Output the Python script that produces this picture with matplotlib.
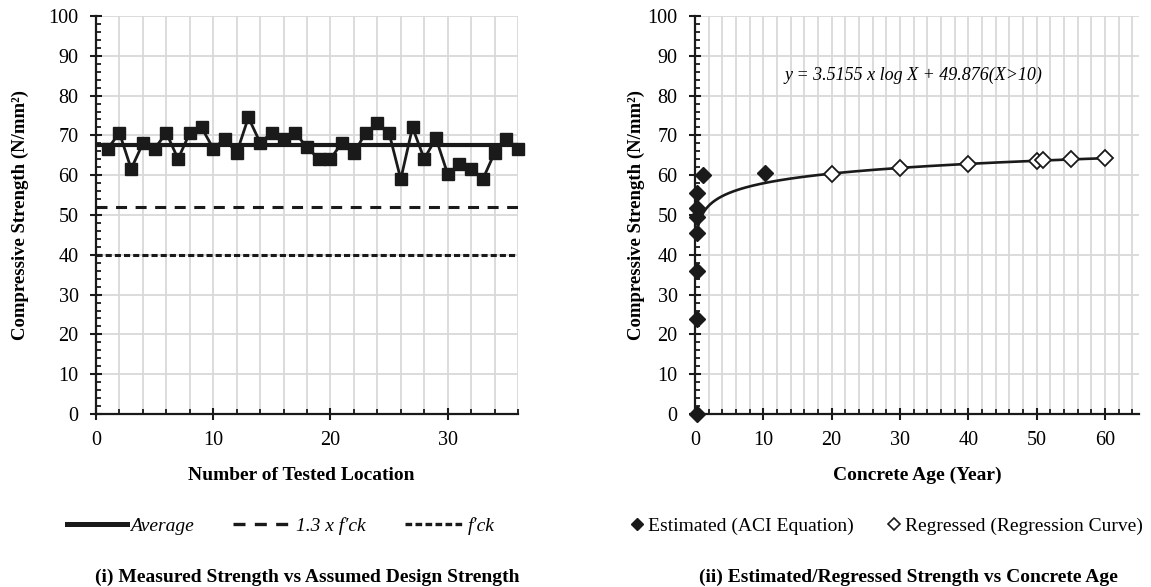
import numpy as np
import matplotlib
matplotlib.use("Agg")
import matplotlib.pyplot as plt
from matplotlib.lines import Line2D
from matplotlib.ticker import MultipleLocator

plt.rcParams['font.family'] = ['Liberation Serif', 'DejaVu Serif']

# ---------------- data: chart (i) ----------------
location = list(range(1, 37))
measured = [66.7, 70.6, 61.6, 68.0, 66.7, 70.6, 64.1, 70.6, 72.0, 66.7,
            69.1, 65.6, 74.5, 68.2, 70.6, 69.1, 70.6, 67.0, 64.1, 64.1,
            68.2, 65.6, 70.6, 73.0, 70.6, 59.0, 72.0, 64.1, 69.3, 60.3,
            62.7, 61.6, 59.0, 65.6, 69.0, 66.7]
average_value = 67.6
design_13fck = 52.0
design_fck = 40.0

# ---------------- data: chart (ii) ----------------
est_age = [0.3, 0.3, 0.3, 0.3, 0.3, 0.3, 0.3, 1.1, 10.2]
est_strength = [0.0, 23.8, 36.0, 45.5, 49.6, 51.7, 55.6, 60.0, 60.5]
reg_age = [20, 30, 40, 50, 51, 55, 60]
reg_strength = [60.4, 61.8, 62.8, 63.6, 63.7, 64.0, 64.3]
fit_a = 3.5155
fit_b = 49.876
fit_range = (0.5, 60)

W, H = 1151, 587
fig = plt.figure(figsize=(W / 100, H / 100), dpi=100)

ax_bottom_px, ax_top_px = 414, 16
ax1 = fig.add_axes([96 / W, (H - ax_bottom_px) / H, 422 / W, (ax_bottom_px - ax_top_px) / H])
ax2 = fig.add_axes([695 / W, (H - ax_bottom_px) / H, 444 / W, (ax_bottom_px - ax_top_px) / H])

grid_c = '#d9d9d9'
TICK_FS = 14.5
LAB_FS = 14


def style_axes(ax, xmax):
    ax.set_xlim(0, xmax)
    ax.set_ylim(0, 100)
    ax.xaxis.set_major_locator(MultipleLocator(10))
    ax.xaxis.set_minor_locator(MultipleLocator(2))
    ax.yaxis.set_major_locator(MultipleLocator(10))
    ax.yaxis.set_minor_locator(MultipleLocator(2))
    ax.grid(which='both', axis='x', color=grid_c, lw=1.3, zorder=0)
    ax.grid(which='major', axis='y', color=grid_c, lw=1.3, zorder=0)
    ax.set_axisbelow(True)
    for s in ['top', 'right']:
        ax.spines[s].set_visible(False)
    for s in ['left', 'bottom']:
        ax.spines[s].set_linewidth(1.6)
        ax.spines[s].set_color('#1a1a1a')
    ax.tick_params(which='major', direction='inout', length=9, width=1.5,
                   labelsize=TICK_FS, pad=8, color='#1a1a1a')
    ax.tick_params(which='minor', direction='in', length=3.5, width=1.3, color='#1a1a1a')


style_axes(ax1, 36)
style_axes(ax2, 65)

# ---- chart (i) ----
ax1.axhline(average_value, color='#1a1a1a', lw=3.0, zorder=3)
ax1.axhline(design_13fck, color='#1a1a1a', lw=2.2, dashes=(3.6, 2.8), zorder=3)
ax1.axhline(design_fck, color='#1a1a1a', lw=2.2, dashes=(2.0, 1.0), zorder=3)
ax1.plot(location, measured, color='#1a1a1a', lw=2.0, marker='s', ms=8,
         mfc='#1a1a1a', mec='#1a1a1a', zorder=4, clip_on=False)

ax1.set_xlabel('Number of Tested Location', fontsize=LAB_FS, fontweight='bold')
ax1.xaxis.label.set_va('center')
ax1.xaxis.set_label_coords(0.487, (ax_bottom_px - 475) / (ax_bottom_px - ax_top_px))
ax1.set_ylabel('Compressive Strength (N/mm\u00b2)', fontsize=LAB_FS - 0.5, fontweight='bold')
ax1.yaxis.label.set_va('center')
ax1.yaxis.set_label_coords((20 - 96) / 422, 0.5)

# ---- chart (ii) ----
xs = np.geomspace(fit_range[0], fit_range[1], 300)
ax2.plot(xs, fit_a * np.log(xs) + fit_b, color='#1a1a1a', lw=1.9, zorder=3)
ax2.plot(est_age, est_strength, ls='none', marker='D', ms=8, mfc='#1a1a1a',
         mec='#1a1a1a', zorder=5, clip_on=False)
ax2.plot(reg_age, reg_strength, ls='none', marker='D', ms=8, mfc='white',
         mec='#1a1a1a', mew=1.3, zorder=5)
ax2.text(32, 85, 'y = 3.5155 x log X + 49.876(X>10)', fontsize=13,
         style='italic', ha='center', va='center')

ax2.set_xlabel('Concrete Age (Year)', fontsize=LAB_FS, fontweight='bold')
ax2.xaxis.label.set_va('center')
ax2.xaxis.set_label_coords(0.5, (ax_bottom_px - 475) / (ax_bottom_px - ax_top_px))
ax2.set_ylabel('Compressive Strength (N/mm\u00b2)', fontsize=LAB_FS - 0.5, fontweight='bold')
ax2.yaxis.label.set_va('center')
ax2.yaxis.set_label_coords((636 - 695) / 444, 0.5)

# ---- legends ----
h1 = [Line2D([], [], color='#1a1a1a', lw=3.6),
      Line2D([], [], color='#1a1a1a', lw=2.4, dashes=(3.6, 2.8)),
      Line2D([], [], color='#1a1a1a', lw=2.4, dashes=(2.0, 1.0))]
fig.legend(h1, ['Average', '1.3 x f\u2032ck', 'f\u2032ck'], loc='center',
           bbox_to_anchor=(281 / W, 1 - 526 / H), ncol=3, frameon=False,
           prop={'size': 14, 'style': 'italic'}, handlelength=3.1,
           handletextpad=0.15, columnspacing=2.0)

h2 = [Line2D([], [], ls='none', marker='D', ms=6, mfc='#1a1a1a', mec='#1a1a1a'),
      Line2D([], [], ls='none', marker='D', ms=6, mfc='white', mec='#1a1a1a', mew=1.2)]
fig.legend(h2, ['Estimated (ACI Equation)', 'Regressed (Regression Curve)'],
           loc='center', bbox_to_anchor=(887 / W, 1 - 526 / H), ncol=2,
           frameon=False, prop={'size': 14}, handlelength=0.6,
           handletextpad=0.25, columnspacing=1.8)

# ---- captions ----
fig.text(307 / W, 1 - 577 / H, '(i) Measured Strength vs Assumed Design Strength',
         fontsize=14, fontweight='bold', ha='center', va='center')
fig.text(908 / W, 1 - 577 / H, '(ii) Estimated/Regressed Strength vs Concrete Age',
         fontsize=14, fontweight='bold', ha='center', va='center')

fig.savefig('out.png', dpi=100, facecolor='white')
